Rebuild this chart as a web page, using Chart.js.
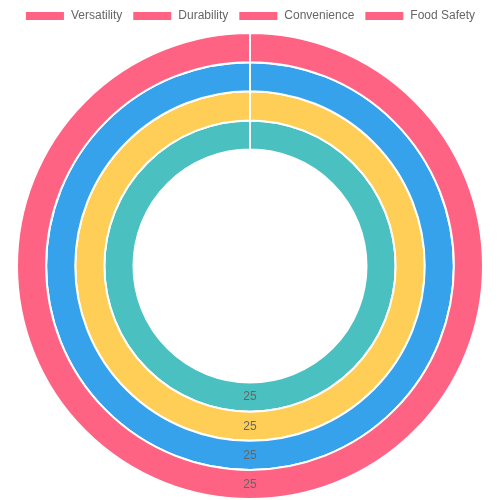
<!DOCTYPE html>
<html>
<head>
<meta charset="utf-8">
<script src="https://cdn.jsdelivr.net/npm/chart.js@4/dist/chart.umd.min.js"></script>
<style>
    html, body { margin: 0; padding: 0; background: #fff; }
    #wrap { width: 500px; height: 500px; }
</style>
</head>
<body>
<div id="wrap"><canvas id="ringChart"></canvas></div>
<script>
// категории и значения колец
const labels = ["Versatility", "Durability", "Convenience", "Food Safety"];
const versatility = [25];
const durability = [25];
const convenience = [25];
const foodSafety = [25];
const ringColors = ["#FF6384", "#36A2EB", "#FFCE56", "#4BC0C0"];

Chart.defaults.font.family = "'Liberation Sans', Arial, sans-serif";
Chart.defaults.font.size = 12;
Chart.defaults.color = "#666";

// подписи значений посередине дуги
const valueLabels = {
    id: "valueLabels",
    afterDatasetsDraw(chart) {
        const ctx = chart.ctx;
        ctx.save();
        ctx.font = "12px 'Liberation Sans', Arial, sans-serif";
        ctx.fillStyle = "#666";
        ctx.textAlign = "center";
        ctx.textBaseline = "middle";
        chart.data.datasets.forEach((ds, i) => {
            const meta = chart.getDatasetMeta(i);
            meta.data.forEach((arc, j) => {
                const p = arc.tooltipPosition();
                ctx.fillText(ds.data[j], p.x, p.y);
            });
        });
        ctx.restore();
    }
};

new Chart(document.getElementById("ringChart"), {
    type: "doughnut",
    data: {
        labels: labels,
        datasets: [
            { data: versatility, backgroundColor: ringColors[0] },
            { data: durability, backgroundColor: ringColors[1] },
            { data: convenience, backgroundColor: ringColors[2] },
            { data: foodSafety, backgroundColor: ringColors[3] }
        ]
    },
    options: {
        responsive: true,
        maintainAspectRatio: false,
        animation: false,
        plugins: {
            legend: {
                position: "top",
                labels: { boxWidth: 40, boxHeight: 10 }
            },
            tooltip: { enabled: false }
        }
    },
    plugins: [valueLabels]
});
</script>
</body>
</html>
